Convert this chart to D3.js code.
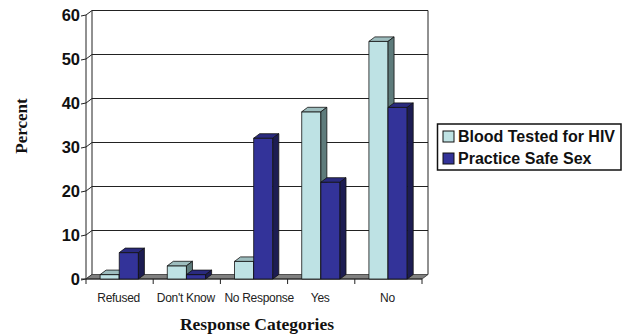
<!DOCTYPE html>
<html><head><meta charset="utf-8">
<script src="https://cdn.jsdelivr.net/npm/d3@7"></script>
<style>body{margin:0;background:#fff}svg{display:block}</style>
</head><body>
<svg id="c" width="626" height="335"></svg>
<script>
const categories = ["Refused", "Don't Know", "No Response", "Yes", "No"];
const seriesNames = ["Blood Tested for HIV", "Practice Safe Sex"];
const bloodTested = [1, 3, 4, 38, 54];
const safeSex = [6, 1, 32, 22, 39];
const yTicks = [0, 10, 20, 30, 40, 50, 60];

const svg = d3.select("#c");
const DX = 6, DY = -4.5;
const x = d3.scaleBand().domain(categories).range([86, 422]).padding(0);
const y = d3.scaleLinear().domain([0, 60]).range([279, 15]);
const bw = x.bandwidth();
const xs = d3.scaleBand().domain([0, 1]).range([bw * 0.21, bw * 0.78]).padding(0);

const faces = [
  {front: "#BEE2E4", top: "#9DBDBE", side: "#5E7B7B"},
  {front: "#333399", top: "#2A2A7E", side: "#1C1C52"}
];
const L = x.range()[0], R = x.range()[1];
const y0 = y(0);

// back wall gridlines + left wall slants
const g = svg.append("g").attr("stroke", "#222").attr("stroke-width", 1).attr("fill", "none");
yTicks.forEach(t => {
  if (t > 0) g.append("line").attr("x1", L + DX).attr("x2", R + DX).attr("y1", y(t) + DY).attr("y2", y(t) + DY);
  g.append("line").attr("x1", L).attr("y1", y(t)).attr("x2", L + DX).attr("y2", y(t) + DY);
  g.append("line").attr("x1", L - 5).attr("y1", y(t) + 1).attr("x2", L).attr("y2", y(t));
});
// walls
g.append("line").attr("x1", L + DX).attr("x2", L + DX).attr("y1", y(60) + DY).attr("y2", y0 + DY);
g.append("line").attr("x1", R + DX).attr("x2", R + DX).attr("y1", y(60) + DY).attr("y2", y0 + DY);
g.append("line").attr("x1", L).attr("x2", L).attr("y1", y(60)).attr("y2", y0);
// floor
svg.append("path")
  .attr("d", `M${L},${y0}L${L + DX},${y0 + DY}L${R + DX},${y0 + DY}L${R},${y0}Z`)
  .attr("fill", "#808080").attr("stroke", "#333").attr("stroke-width", 0.8);
// x ticks
categories.concat([null]).forEach((c, i) => {
  const xx = L + bw * i;
  svg.append("line").attr("x1", xx).attr("x2", xx).attr("y1", y0).attr("y2", y0 + 5)
    .attr("stroke", "#222").attr("stroke-width", 1);
});
svg.append("line").attr("x1", L - 5).attr("x2", R).attr("y1", y0).attr("y2", y0).attr("stroke", "#222");

// bars
const data = [bloodTested, safeSex];
categories.forEach((c, i) => {
  [0, 1].forEach(s => {
    const v = data[s][i];
    const x0 = x(c) + xs(s), x1 = x0 + xs.bandwidth();
    const yt = y(v);
    const bg = svg.append("g").attr("stroke", "#111").attr("stroke-width", 0.8).attr("stroke-linejoin", "round");
    bg.append("rect").attr("x", x0).attr("y", yt).attr("width", x1 - x0).attr("height", y0 - yt).attr("fill", faces[s].front);
    bg.append("path").attr("d", `M${x0},${yt}L${x0 + DX},${yt + DY}L${x1 + DX},${yt + DY}L${x1},${yt}Z`).attr("fill", faces[s].top);
    bg.append("path").attr("d", `M${x1},${yt}L${x1 + DX},${yt + DY}L${x1 + DX},${y0 + DY}L${x1},${y0}Z`).attr("fill", faces[s].side);
  });
});

// y tick labels
svg.append("g").selectAll("text").data(yTicks).join("text")
  .attr("x", 80).attr("y", d => y(d) + 6).attr("text-anchor", "end")
  .attr("font-family", "Liberation Sans, Arial, sans-serif").attr("font-weight", "bold")
  .attr("font-size", 16.5).attr("fill", "#111").text(d => d);

// category labels with simple overlap avoidance
const labs = svg.append("g").selectAll("text").data(categories).join("text")
  .attr("x", d => x(d) + bw / 2 - 1).attr("y", 302).attr("text-anchor", "middle")
  .attr("font-family", "Liberation Sans, Arial, sans-serif").attr("font-size", 12)
  .attr("letter-spacing", -0.3)
  .attr("fill", "#222").text(d => d);
let prevRight = -Infinity;
labs.each(function () {
  const b = this.getBBox();
  let shift = 0;
  if (b.x < prevRight + 9) shift = prevRight + 9 - b.x;
  if (shift) this.setAttribute("x", +this.getAttribute("x") + shift);
  prevRight = b.x + b.width + shift;
});

// axis titles
svg.append("text").attr("x", 257).attr("y", 330).attr("text-anchor", "middle")
  .attr("font-family", "Liberation Serif, Times New Roman, serif").attr("font-weight", "bold")
  .attr("font-size", 17.5).attr("fill", "#111").text("Response Categories");
svg.append("text").attr("transform", "translate(27,126) rotate(-90)").attr("text-anchor", "middle")
  .attr("font-family", "Liberation Serif, Times New Roman, serif").attr("font-weight", "bold")
  .attr("font-size", 17).attr("fill", "#111").text("Percent");

// legend
const lg = svg.append("g");
lg.append("rect").attr("x", 437.5).attr("y", 124).attr("width", 183.5).attr("height", 46)
  .attr("fill", "#fff").attr("stroke", "#111").attr("stroke-width", 1.5);
seriesNames.forEach((n, i) => {
  lg.append("rect").attr("x", 443).attr("y", 131 + i * 22).attr("width", 11).attr("height", 11)
    .attr("fill", faces[i].front).attr("stroke", "#111").attr("stroke-width", 1);
  lg.append("text").attr("x", 458).attr("y", 142 + i * 22)
    .attr("font-family", "Liberation Sans, Arial, sans-serif").attr("font-weight", "bold")
    .attr("font-size", 16).attr("fill", "#111").text(n);
});
</script>
</body></html>
